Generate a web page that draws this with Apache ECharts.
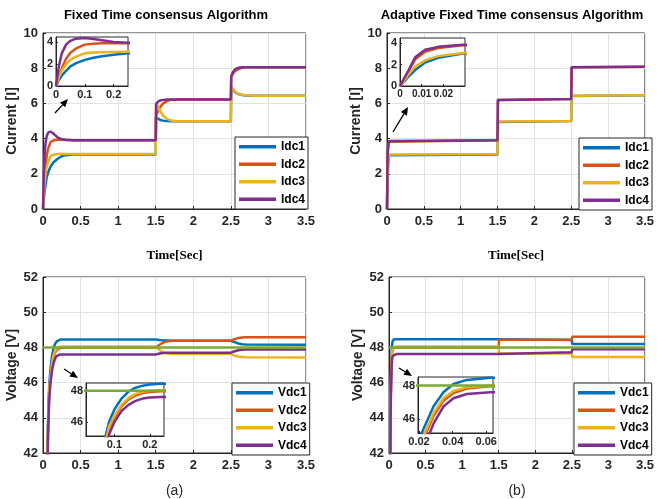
<!DOCTYPE html>
<html>
<head>
<meta charset="utf-8">
<script src="https://cdn.jsdelivr.net/npm/echarts@6/dist/echarts.min.js"></script>
<style>
  html, body { margin: 0; padding: 0; background: #fff; }
  #chart { width: 657px; height: 499px; }
</style>
</head>
<body>
<div id="chart"></div>
<script>
// ---- (a) Fixed time, currents
const tCurA = [0, 0.01, 0.02, 0.035, 0.05, 0.07, 0.1, 0.13, 0.16, 0.2, 0.25, 0.3, 0.4, 1.5, 1.505, 1.53, 1.56, 1.6, 1.65, 1.7, 1.8, 2.5, 2.505, 2.53, 2.56, 2.6, 2.65, 2.7, 2.8, 3.5];
const idc1A = [0, 0.55, 0.95, 1.4, 1.8, 2.1, 2.4, 2.6, 2.73, 2.87, 3.0, 3.06, 3.1, 3.1, 5.2, 5.12, 5.06, 5.02, 5.0, 4.98, 4.98, 4.98, 6.9, 6.75, 6.62, 6.53, 6.48, 6.45, 6.43, 6.43];
const idc2A = [0, 0.9, 1.6, 2.5, 3.05, 3.45, 3.8, 3.88, 3.92, 3.93, 3.93, 3.92, 3.9, 3.9, 5.3, 5.55, 5.8, 6.0, 6.13, 6.2, 6.22, 6.22, 7.5, 7.7, 7.85, 7.95, 8.02, 8.05, 8.06, 8.06];
const idc3A = [0, 0.8, 1.4, 2.0, 2.4, 2.7, 3.0, 3.07, 3.1, 3.12, 3.14, 3.13, 3.12, 3.12, 6.05, 5.8, 5.55, 5.3, 5.12, 5.03, 4.98, 4.98, 6.95, 6.8, 6.65, 6.55, 6.49, 6.46, 6.44, 6.44];
const idc4A = [0, 1.8, 3.0, 3.8, 4.15, 4.35, 4.4, 4.32, 4.2, 4.05, 3.97, 3.93, 3.9, 3.9, 5.95, 6.1, 6.17, 6.2, 6.22, 6.22, 6.22, 6.22, 7.55, 7.8, 7.95, 8.02, 8.05, 8.06, 8.06, 8.06];

// ---- (b) Adaptive fixed time, currents
const tCurB = [0, 0.004, 0.007, 0.0116, 0.0176, 0.029, 0.05, 1.5, 1.505, 1.52, 2.5, 2.505, 2.52, 3.5];
const idc1B = [0, 0.9, 1.5, 2.2, 2.65, 3.05, 3.1, 3.1, 4.95, 5.0, 5.0, 6.42, 6.46, 6.46];
const idc2B = [0, 1.4, 2.5, 3.2, 3.55, 3.82, 3.9, 3.9, 6.2, 6.25, 6.25, 8.05, 8.08, 8.08];
const idc3B = [0, 1.1, 1.8, 2.4, 2.8, 3.1, 3.12, 3.12, 4.97, 5.0, 5.0, 6.44, 6.47, 6.47];
const idc4B = [0, 1.5, 2.7, 3.4, 3.67, 3.86, 3.9, 3.9, 6.2, 6.25, 6.25, 8.05, 8.08, 8.08];

// ---- (a) voltages
const tVolA = [0, 0.072, 0.085, 0.1, 0.12, 0.14, 0.16, 0.18, 0.2, 0.23, 0.3, 1.5, 1.55, 1.6, 1.65, 1.7, 2.5, 2.55, 2.6, 2.65, 2.7, 3.5];
const vdc1A = [30, 44.8, 46.0, 46.8, 47.5, 47.95, 48.2, 48.33, 48.4, 48.45, 48.45, 48.45, 48.42, 48.4, 48.39, 48.38, 48.38, 48.3, 48.22, 48.18, 48.16, 48.15];
const vdc2A = [30, 44.3, 45.6, 46.3, 47.0, 47.45, 47.7, 47.85, 47.92, 47.97, 48.0, 48.0, 48.15, 48.27, 48.34, 48.38, 48.38, 48.47, 48.53, 48.56, 48.57, 48.57];
const vdc3A = [30, 44.4, 45.7, 46.4, 47.1, 47.55, 47.8, 47.93, 48.0, 48.04, 48.05, 48.05, 47.85, 47.72, 47.66, 47.63, 47.63, 47.53, 47.48, 47.45, 47.44, 47.43];
const vdc4A = [30, 43.8, 45.2, 46.0, 46.7, 47.1, 47.35, 47.5, 47.57, 47.6, 47.6, 47.6, 47.65, 47.68, 47.7, 47.7, 47.7, 47.78, 47.84, 47.87, 47.88, 47.88];

// ---- (b) voltages
const tVolB = [0, 0.0216, 0.0286, 0.0345, 0.0405, 0.0484, 0.0623, 0.1, 1.5, 1.505, 2.5, 2.505, 3.5];
const vdc1B = [30, 45.2, 46.76, 47.6, 48.09, 48.33, 48.45, 48.47, 48.47, 48.42, 48.42, 48.2, 48.2];
const vdc2B = [30, 44.6, 46.2, 47.1, 47.55, 47.82, 47.95, 48.0, 48.0, 48.44, 48.44, 48.6, 48.6];
const vdc3B = [30, 44.8, 46.37, 47.25, 47.68, 47.9, 48.0, 48.05, 48.05, 47.65, 47.65, 47.45, 47.45];
const vdc4B = [30, 44.0, 45.75, 46.76, 47.25, 47.5, 47.6, 47.62, 47.62, 47.72, 47.72, 47.9, 47.9];

// reference voltage
const tRef = [0, 3.5];
const vRef = [48, 48];

const colors = ['#0072BD', '#D95319', '#EDB120', '#7E2F8E'];
const refColor = '#77AC30';
const font = 'Liberation Sans, Arial, sans-serif';

const pairs = (t, v) => t.map((x, i) => [x, v[i]]);

function line(name, t, v, color, idx, z) {
  return {
    type: 'line', name, data: pairs(t, v),
    xAxisIndex: idx, yAxisIndex: idx,
    symbol: 'none', z,
    lineStyle: { width: 2.5, color },
    itemStyle: { color },
    animation: false
  };
}

const curSets = [
  [tCurA, [idc1A, idc2A, idc3A, idc4A]],
  [tCurB, [idc1B, idc2B, idc3B, idc4B]]
];
const volSets = [
  [tVolA, [vdc1A, vdc2A, vdc3A, vdc4A]],
  [tVolB, [vdc1B, vdc2B, vdc3B, vdc4B]]
];

// grids: 0 TL, 1 TR, 2 BL, 3 BR main; 4..7 insets
const grids = [
  { left: 43, top: 33, width: 263, height: 176 },
  { left: 387, top: 33, width: 261, height: 176 },
  { left: 43, top: 277, width: 263, height: 176 },
  { left: 389, top: 277, width: 259, height: 176 },
  { left: 56, top: 37, width: 72, height: 49, z: 5 },
  { left: 400, top: 38, width: 65, height: 48, z: 5 },
  { left: 86, top: 383, width: 78, height: 53, z: 5 },
  { left: 418, top: 377, width: 75, height: 56, z: 5 }
].map(g => Object.assign({ show: true, backgroundColor: '#fff', borderColor: '#262626', borderWidth: 1, containLabel: false }, g));

const labelStyle = { fontFamily: font, fontSize: 13, fontWeight: 'bold', color: '#262626' };

function mainX(gi, name, nameStyle) {
  return {
    type: 'value', gridIndex: gi, min: 0, max: 3.5, interval: 0.5,
    name, nameLocation: 'middle', nameGap: nameStyle.gap, nameTextStyle: nameStyle.style,
    axisLine: { show: true, lineStyle: { color: '#262626' } },
    axisTick: { show: true, inside: true, length: 3, lineStyle: { color: '#262626' } },
    splitLine: { show: true, lineStyle: { color: '#e2e2e2' } },
    axisLabel: Object.assign({ margin: 6 }, labelStyle)
  };
}
function mainY(gi, min, max, name) {
  return {
    type: 'value', gridIndex: gi, min, max, interval: 2,
    name, nameLocation: 'middle', nameGap: 17,
    nameTextStyle: { fontFamily: font, fontSize: 14, fontWeight: 'bold', color: '#262626' },
    axisLine: { show: true, lineStyle: { color: '#262626' } },
    axisTick: { show: true, inside: true, length: 3, lineStyle: { color: '#262626' } },
    splitLine: { show: true, lineStyle: { color: '#e2e2e2' } },
    axisLabel: Object.assign({ margin: 5 }, labelStyle)
  };
}
function insetAxis(gi, min, max, ticks, size) {
  return {
    type: 'value', gridIndex: gi, min, max, z: 6,
    axisLine: { show: true, lineStyle: { color: '#262626' } },
    axisTick: { show: true, inside: true, length: 2, customValues: ticks, lineStyle: { color: '#262626' } },
    splitLine: { show: false },
    axisLabel: { customValues: ticks, margin: 3, fontFamily: font, fontSize: size || 11, fontWeight: 'bold', color: '#262626' }
  };
}

const timeName = { gap: 40, style: { fontFamily: 'Liberation Serif, Times New Roman, serif', fontSize: 13, fontWeight: 'bold', color: '#000' } };
const subName = { gap: 31, style: { fontFamily: font, fontSize: 14, color: '#262626' } };

const xAxes = [
  mainX(0, 'Time[Sec]', timeName),
  mainX(1, 'Time[Sec]', timeName),
  mainX(2, '(a)', subName),
  mainX(3, '(b)', subName),
  insetAxis(4, 0, 0.25, [0, 0.1, 0.2]),
  insetAxis(5, 0, 0.03, [0, 0.01, 0.02], 10),
  insetAxis(6, 0.02, 0.24, [0.1, 0.2]),
  insetAxis(7, 0.0194, 0.064, [0.02, 0.04, 0.06])
];
const yAxes = [
  mainY(0, 0, 10, 'Current [I]'),
  mainY(1, 0, 10, 'Current [I]'),
  mainY(2, 42, 52, 'Voltage [V]'),
  mainY(3, 42, 52, 'Voltage [V]'),
  insetAxis(4, 0, 4.5, [0, 2, 4]),
  insetAxis(5, 0, 4.5, [0, 2, 4]),
  insetAxis(6, 45.1, 48.5, [46, 48]),
  insetAxis(7, 45.2, 48.5, [46, 48])
];

const series = [];
const curNames = ['Idc1', 'Idc2', 'Idc3', 'Idc4'];
const volNames = ['Vdc1', 'Vdc2', 'Vdc3', 'Vdc4'];
curSets.forEach(([t, vals], k) => {
  vals.forEach((v, i) => {
    series.push(line(curNames[i], t, v, colors[i], k, 2));
    series.push(line(curNames[i], t, v, colors[i], 4 + k, 7));
  });
});
volSets.forEach(([t, vals], k) => {
  vals.forEach((v, i) => {
    series.push(line(volNames[i], t, v, colors[i], 2 + k, 2));
    series.push(line(volNames[i], t, v, colors[i], 6 + k, 7));
  });
  series.push(line('Vref', tRef, vRef, refColor, 2 + k, 3));
  series.push(line('Vref', tRef, vRef, refColor, 6 + k, 8));
});

function legend(names, left, top) {
  return {
    data: names, left, top, orient: 'vertical', z: 10,
    backgroundColor: '#fff', borderColor: '#262626', borderWidth: 1, borderRadius: 0,
    padding: [3, 3, 3, 4], itemGap: 4, itemWidth: 37, itemHeight: 3.5, itemTextGap: 2,
    icon: 'rect', selectedMode: false,
    textStyle: { fontFamily: font, fontSize: 12, fontWeight: 'bold', color: '#000', lineHeight: 13.5 }
  };
}

function arrow(x1, y1, x2, y2) {
  const a = Math.atan2(y2 - y1, x2 - x1), L = 8, W = 3.5;
  const bx = x2 - L * Math.cos(a), by = y2 - L * Math.sin(a);
  const px = -Math.sin(a), py = Math.cos(a);
  return [
    { type: 'line', z: 100, shape: { x1, y1, x2: bx, y2: by }, style: { stroke: '#000', lineWidth: 1.3 } },
    { type: 'polygon', z: 100, shape: { points: [[x2, y2], [bx + px * W, by + py * W], [bx - px * W, by - py * W]] }, style: { fill: '#000' } }
  ];
}

const titleStyle = { fill: '#000', font: 'bold 13px ' + font, align: 'center', verticalAlign: 'middle' };

const option = {
  animation: false,
  backgroundColor: '#fff',
  grid: grids,
  xAxis: xAxes,
  yAxis: yAxes,
  series,
  legend: [
    legend(curNames, 235, 137),
    legend(curNames, 579, 138),
    legend(volNames, 232, 383),
    legend(volNames, 574, 383)
  ],
  graphic: [
    { type: 'text', z: 100, x: 166, y: 15, style: Object.assign({ text: 'Fixed Time consensus Algorithm' }, titleStyle) },
    { type: 'text', z: 100, x: 512, y: 15, style: Object.assign({ text: 'Adaptive Fixed Time consensus Algorithm' }, titleStyle) },
    ...arrow(55, 113, 68, 99),
    ...arrow(393, 132, 408, 107),
    ...arrow(64, 369, 78, 378),
    ...arrow(399, 368, 412, 376)
  ]
};

const chart = echarts.init(document.getElementById('chart'));
chart.setOption(option);
</script>
</body>
</html>
